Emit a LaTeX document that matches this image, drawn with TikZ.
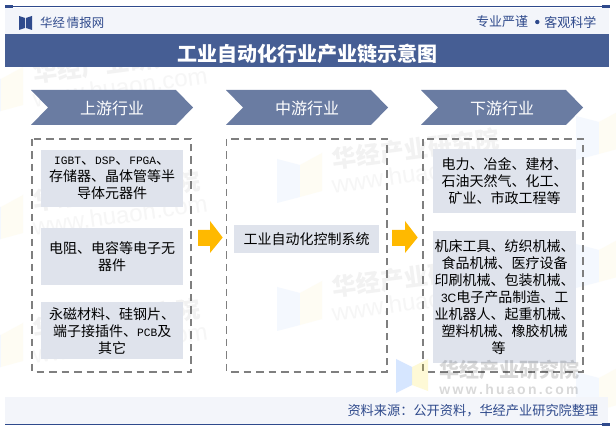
\documentclass[tikz,border=0pt]{standalone}
\usepackage{fontspec}
\setmainfont{Noto Sans CJK SC}
\newfontfamily\latinf{Liberation Mono}
\newfontfamily\sansf{Liberation Sans}
\newcommand{\lat}[1]{{\latinf\fontsize{11.2}{12}\selectfont #1}}
\begin{document}
\begin{tikzpicture}[x=1pt,y=-1pt,
  pillbox/.style={fill=pillgrey,draw=none,inner sep=0pt,anchor=north west,align=center,text=black,
     font=\fontsize{14}{17}\selectfont},
  dashbox/.style={draw=dashgrey,line width=1.5pt,dash pattern=on 7.5pt off 5pt},
  goarrow/.style={fill=goyellow,draw=none},
  wmark/.style={text=black!5,font=\bfseries\fontsize{24}{26}\selectfont,inner sep=0pt,rotate=7.5},
  wmurl/.style={text=black!3.5,font=\sansf\fontsize{24}{26}\selectfont,inner sep=0pt,rotate=8},
  chevtext/.style={text=white,font=\fontsize{16}{18}\selectfont,inner sep=0pt},
]
\definecolor{navy}{HTML}{2F4A8C}
\definecolor{bandlight}{HTML}{F3F5FA}
\definecolor{titleblue}{HTML}{465E94}
\definecolor{headblue}{HTML}{6A7CA2}
\definecolor{pillgrey}{HTML}{DFE3EC}
\definecolor{dashgrey}{HTML}{7F7F7F}
\definecolor{goyellow}{HTML}{FFB900}
\definecolor{wmblue}{HTML}{F4F8FE}
\definecolor{wmyellow}{HTML}{FEFCF3}
\useasboundingbox (0,0) rectangle (616,430);
\fill[white] (0,0) rectangle (616,430);
% watermark tiles: text centre given, logo to the left
\foreach \x/\y in {117/63,117/191,117/319,416/149,416/277}{
  \node[wmark] at (\x,\y) {华经产业研究院};
  \node[wmurl] at (\x+3,\y+24) {www.huaon.com};
}
\foreach \x/\y in {-22/67,-22/195,-22/323,277/153,277/281,576/110,576/238,576/366}{
  \fill[wmblue] (\x,\y+6) -- (\x+23,\y+12) -- (\x+23,\y+44) -- (\x,\y+50) -- cycle;
  \fill[wmyellow] (\x+23,\y+12) -- (\x+45,\y) -- (\x+45,\y+38) -- (\x+23,\y+44) -- cycle;
}
% top bands
\fill[bandlight] (5,8) rectangle (609,34);
\draw[navy,line width=1pt] (5,7) -- (609,7);
\fill[navy] (5,5.5) rectangle (13,8.5);
\fill[navy] (602,5.5) rectangle (610,8.5);
\fill[navy] (19,16) -- (25,18) -- (25,28) -- (19,30) -- cycle;
\fill[navy] (32,16) -- (26,18) -- (26,28) -- (32,30) -- cycle;
\node[text=navy,font=\fontsize{12.4}{15}\selectfont,inner sep=0pt,anchor=west] (brand) at (40,23) {华经\hspace{2pt}情报网};
\node[text=navy,font=\fontsize{13}{15}\selectfont,inner sep=0pt,anchor=west] (motto1) at (476,22) {专业严谨};
\fill[navy] (537.3,22) circle (2.2pt);
\node[text=navy,font=\fontsize{13}{15}\selectfont,inner sep=0pt,anchor=east] (motto2) at (596.5,22) {客观科学};
% title
\fill[titleblue] (5,34) rectangle (609,67);
\node[text=white,font=\bfseries\fontsize{20}{22}\selectfont,inner sep=0pt] (title) at (307.5,54) {工业自动化行业产业链示意图};
% chevrons
\foreach \n/\x/\t in {up/31/上游行业,mid/226/中游行业,down/421/下游行业}{
  \fill[headblue] (\x,90) -- (\x+145,90) -- (\x+162,107.5) -- (\x+145,125) -- (\x,125) -- (\x+17,107.5) -- cycle;
  \node[chevtext] (\n head) at (\x+81,108) {\t};
}
% dashed boxes
\draw[dashbox] (32,139) rectangle (191,372);
\draw[dashbox] (226.5,139) rectangle (387,372);
\draw[dashbox] (423,139) rectangle (583,372);
% left boxes
\node[pillbox,minimum width=142pt,minimum height=57pt] (a1) at (41,150) {\lat{IGBT}、\lat{DSP}、\lat{FPGA}、\\存储器、晶体管等半\\导体元器件};
\node[pillbox,minimum width=142pt,minimum height=57pt] (a2) at (41,228) {电阻、电容等电子无\\器件};
\node[pillbox,minimum width=142pt,minimum height=57pt] (a3) at (41,302) {永磁材料、硅钢片、\\端子接插件、\lat{PCB}及\\其它};
% middle box
\node[pillbox,minimum width=145pt,minimum height=28pt] (b1) at (234,225) {工业自动化控制系统};
% right boxes
\node[pillbox,minimum width=143pt,minimum height=64pt] (c1) at (433,149) {电力、冶金、建材、\\石油天然气、化工、\\矿业、市政工程等};
\node[pillbox,minimum width=143pt,minimum height=132pt] (c2) at (433,231) {机床工具、纺织机械、\\食品机械、医疗设备\hspace*{11pt}\\印刷机械、包装机械、\\{\sansf\fontsize{12}{12}\selectfont 3C}电子产品制造、工\hspace*{11pt}\\业机器人、起重机械、\\塑料机械、橡胶机械\hspace*{11pt}\\等\hspace*{12pt}};
% yellow block arrows
\fill[goyellow] (198,230) -- (210,230) -- (210,221) -- (222.7,237.5) -- (210,253) -- (210,246) -- (198,246) -- cycle;
\fill[goyellow] (392,230) -- (405,230) -- (405,221) -- (417.7,237.5) -- (405,253) -- (405,246) -- (392,246) -- cycle;
% bottom logo watermark
\fill[fill=blue!60!cyan,opacity=.16] (396,359) -- (412,367) -- (412,385) -- (396,393) -- cycle;
\fill[yellow!80!orange,opacity=.16] (412,367) -- (428,359) -- (428,391) -- (412,385) -- cycle;
\node[text=black,opacity=.15,font=\bfseries\fontsize{20}{22}\selectfont,inner sep=0pt] (wm) at (509,370) {华经产业研究院};
\node[text=black,opacity=.15,font=\sansf\bfseries\fontsize{14}{15}\selectfont,inner sep=0pt] (wmu) at (509,389) {w\,w\,w\,.\,h\,u\,a\,o\,n\,.\,c\,o\,m};
% footer
\fill[bandlight] (5,397) rectangle (608,423.5);
\draw[navy,line width=1pt] (5,424) -- (609,424);
\fill[navy] (602,422.5) rectangle (610,425.5);
\node[text=navy,font=\fontsize{13.2}{15}\selectfont,inner sep=0pt,anchor=east] (src) at (598.5,411) {资料来源：公开资料，华经产业研究院整理};
\end{tikzpicture}
\end{document}
